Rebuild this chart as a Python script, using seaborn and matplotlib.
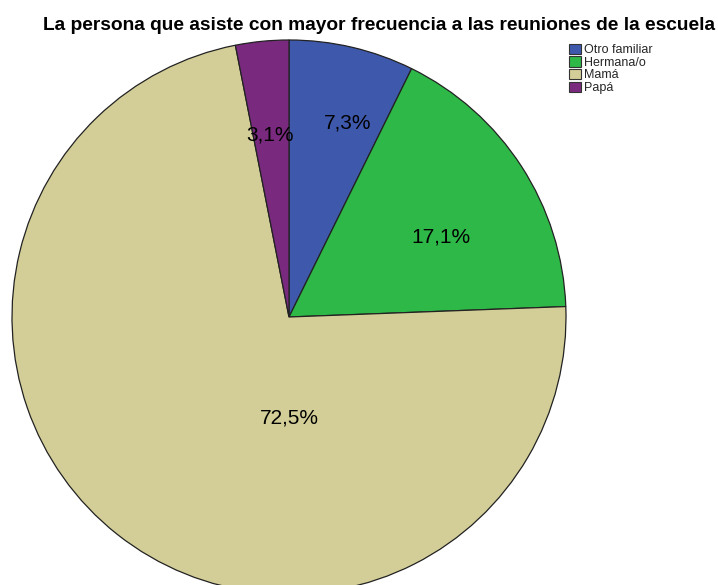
import matplotlib
matplotlib.use("Agg")
import matplotlib.pyplot as plt
import seaborn as sns
import numpy as np

categories = ["Otro familiar", "Hermana/o", "Mamá", "Papá"]
values = [7.3, 17.1, 72.5, 3.1]
colors = ["#3E58AC", "#2EB848", "#D3CE97", "#7A2A7E"]
title = "La persona que asiste con mayor frecuencia a las reuniones de la escuela"

sns.set_theme(style="white")
plt.rcParams['font.family'] = ['Liberation Sans', 'DejaVu Sans']

W, H = 718, 585
fig = plt.figure(figsize=(W / 100, H / 100), dpi=100)
fig.patch.set_facecolor("white")

# pie axes: centre (289,317), radius 277 px
cx, cy, r = 289, 317, 277
ax = fig.add_axes([(cx - r) / W, (H - (cy + r)) / H, 2 * r / W, 2 * r / H])
pal = sns.color_palette(colors)
wedges, _ = ax.pie(values, colors=pal, startangle=90, counterclock=False,
                   wedgeprops=dict(edgecolor="#222222", linewidth=0.9))
ax.set_xlim(-1, 1)
ax.set_ylim(-1, 1)
ax.set_aspect("equal")
ax.axis("off")

# label placement (radius, angle offset) per slice
label_pos = [(0.73, -3.7), (0.62, -5.0), (0.365, 38.3), (0.66, 0.4)]
for w, v, (rr, da) in zip(wedges, values, label_pos):
    ang = np.deg2rad((w.theta1 + w.theta2) / 2 + da)
    ax.text(rr * np.cos(ang), rr * np.sin(ang), f"{v:.1f}%".replace(".", ","),
            ha="center", va="center", fontsize=15, color="black")

fig.text(43 / W, 1 - 26 / H, title, ha="left", va="center",
         fontsize=13.8, fontweight="bold", color="black")

handles = [plt.Rectangle((0, 0), 1, 1, facecolor=c, edgecolor="#333333", linewidth=0.8)
           for c in colors]
leg = fig.legend(handles, categories, loc="upper left",
                 bbox_to_anchor=(566 / W, 1 - 41 / H), frameon=False,
                 fontsize=9, handlelength=1.0, handleheight=0.9,
                 handletextpad=0.25, labelspacing=0.02, borderpad=0.2,
                 borderaxespad=0)

fig.savefig("out.png", dpi=100, facecolor="white")
